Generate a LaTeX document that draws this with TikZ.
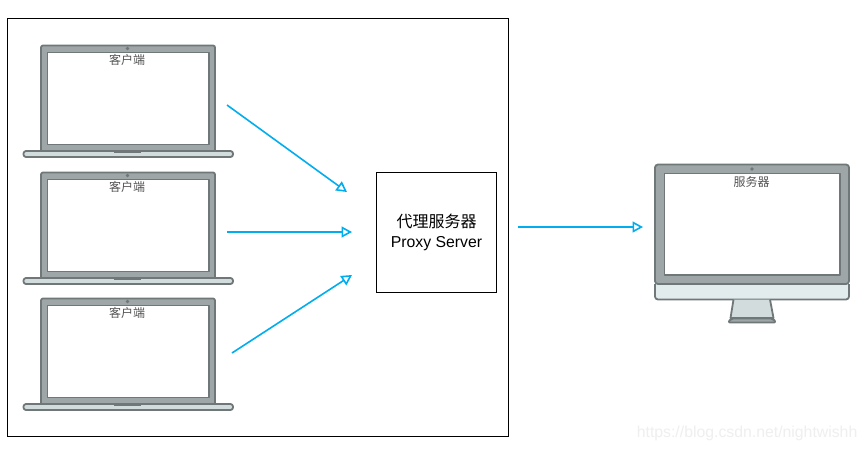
\documentclass[tikz,border=0pt]{standalone}
\usepackage{fontspec}
\setmainfont{Liberation Sans}
\newfontfamily\cjkfont{Noto Sans CJK SC}
\usetikzlibrary{arrows.meta}
\definecolor{edgegrey}{HTML}{6F7779}
\definecolor{lidgrey}{HTML}{9EA6A8}
\definecolor{basegrey}{HTML}{D3DCDC}
\definecolor{chingrey}{HTML}{E3ECEC}
\definecolor{linkblue}{HTML}{00AEEF}
\definecolor{textgrey}{HTML}{555555}
\definecolor{markgrey}{HTML}{EFEFEF}
\tikzset{
  x=1pt,y=-1pt,
  device/.style={draw=edgegrey,line width=1.8pt,line join=round},
  devlabel/.style={inner sep=0pt,text=textgrey,font=\cjkfont\fontsize{12}{14}\selectfont},
  frameline/.style={draw=black,line width=1pt},
  link/.style={draw=linkblue,line width=1.6pt,-{Triangle[open,length=10.5pt,width=11pt,fill=white,line width=1.6pt]}},
  laptop/.pic={
    \draw[device,fill=lidgrey,rounded corners=2pt] (41,151) -- (41,45.5) -- (215,45.5) -- (215,151);
    \draw[device,fill=white] (47.5,52.5) rectangle (209,144.5);
    \fill[edgegrey] (127.5,48.5) circle (1.8);
    \draw[device,fill=basegrey,rounded corners=2.5pt] (23.5,151) rectangle (233,157);
    \fill[edgegrey] (114,151) rectangle (141,153.2);
    \node[devlabel] (-label) at (127,59.7) {客户端};
  }
}
\begin{document}
\begin{tikzpicture}
\useasboundingbox (0,0) rectangle (866,451);
\fill[white] (0,0) rectangle (866,451);
\node[frameline,draw,minimum width=501pt,minimum height=418pt,inner sep=0pt] (group) at (258,227.5) {};
\pic (a) at (0,0) {laptop};
\pic (b) at (0,127) {laptop};
\pic (c) at (0,253) {laptop};
\node[frameline,draw,minimum width=120pt,minimum height=120pt,inner sep=0pt,align=center,
  font=\fontsize{15.8}{20.5}\selectfont] (proxy) at (436.5,232.5)
  {{\cjkfont\fontsize{16}{20.5}\selectfont 代理服务器}\\Proxy Server};
% monitor
\draw[device,fill=chingrey,rounded corners=3pt] (655,284) -- (655,299.5) -- (849,299.5) -- (849,284);
\draw[device,fill=basegrey] (733.5,299.5) -- (730.5,318) -- (773.5,318) -- (770,299.5);
\draw[device,fill=lidgrey,line join=round,rounded corners=2pt] (728,322.5) -- (731,318.5) -- (773,318.5) -- (776,322.5) -- cycle;
\draw[device,fill=lidgrey,rounded corners=3pt] (655,284) -- (655,164.5) -- (849,164.5) -- (849,284) -- cycle;
\draw[device,fill=white] (664.5,173.5) rectangle (840,275);
\fill[edgegrey] (752,169) circle (1.8);
\node[devlabel] (server) at (751.5,181.5) {服务器};
% connectors
\coordinate (s1) at (227,105); \coordinate (e1) at (347,192);
\coordinate (s2) at (227,232); \coordinate (e2) at (352,232);
\coordinate (s3) at (232,353); \coordinate (e3) at (352,275);
\coordinate (s4) at (518,227); \coordinate (e4) at (643,227);
\draw[link] (s1) -- (e1);
\draw[link] (s2) -- (e2);
\draw[link] (s3) -- (e3);
\draw[link] (s4) -- (e4);
\node[inner sep=0pt,anchor=east,text=markgrey,font=\fontsize{15.8}{17}\selectfont] (mark) at (857.5,433) {https://blog.csdn.net/nightwishh};
\end{tikzpicture}
\end{document}
